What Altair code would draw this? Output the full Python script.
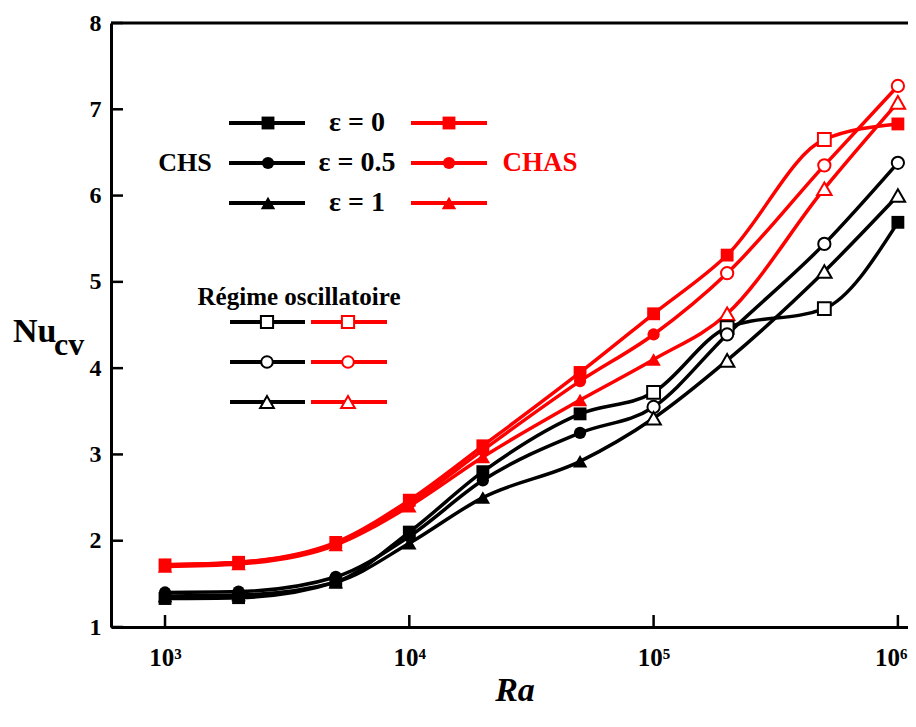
import altair as alt
import pandas as pd

# ---------------- data ----------------
ra = [1e3, 2e3, 5e3, 1e4, 2e4, 5e4, 1e5, 2e5, 5e5, 1e6]

chs_e0 = [1.33, 1.34, 1.52, 2.10, 2.80, 3.47, 3.72, 4.47, 4.69, 5.69]
chs_e05 = [1.40, 1.41, 1.58, 2.05, 2.70, 3.25, 3.55, 4.39, 5.44, 6.38]
chs_e1 = [1.36, 1.37, 1.52, 1.97, 2.50, 2.92, 3.42, 4.09, 5.12, 6.00]
chas_e0 = [1.72, 1.75, 1.98, 2.47, 3.10, 3.95, 4.63, 5.31, 6.65, 6.83]
chas_e05 = [1.72, 1.75, 1.97, 2.43, 3.05, 3.85, 4.39, 5.10, 6.35, 7.27]
chas_e1 = [1.70, 1.73, 1.95, 2.40, 2.97, 3.63, 4.10, 4.63, 6.08, 7.08]

# 1 = oscillatory regime (open marker)
chs_e0_osc = [0, 0, 0, 0, 0, 0, 1, 1, 1, 0]
chs_e05_osc = [0, 0, 0, 0, 0, 0, 1, 1, 1, 1]
chs_e1_osc = [0, 0, 0, 0, 0, 0, 1, 1, 1, 1]
chas_e0_osc = [0, 0, 0, 0, 0, 0, 0, 0, 1, 0]
chas_e05_osc = [0, 0, 0, 0, 0, 0, 0, 1, 1, 1]
chas_e1_osc = [0, 0, 0, 0, 0, 0, 0, 1, 1, 1]

series_names = ["CHAS_e0", "CHAS_e05", "CHAS_e1", "CHS_e0", "CHS_e05", "CHS_e1"]
series_values = [chas_e0, chas_e05, chas_e1, chs_e0, chs_e05, chs_e1]
series_osc = [chas_e0_osc, chas_e05_osc, chas_e1_osc, chs_e0_osc, chs_e05_osc, chs_e1_osc]
series_color = ["red", "red", "red", "black", "black", "black"]
series_shape = ["square", "circle", "triangle-up"] * 2

x_ticks = [1e3, 1e4, 1e5, 1e6]
y_ticks = [1, 2, 3, 4, 5, 6, 7, 8]

legend_labels = ["ε = 0", "ε = 0.5", "ε = 1"]
legend_shapes = ["square", "circle", "triangle-up"]

rows = []
for name, vals, osc, col, shp in zip(series_names, series_values, series_osc, series_color, series_shape):
    for r, v, o in zip(ra, vals, osc):
        rows.append(dict(Ra=r, Nu=v, series=name, color=col, shape=shp, osc=o))
df = pd.DataFrame(rows)

# ---------------- layout ----------------
W, H = 797, 604
FONT = "Liberation Serif"
dummy = pd.DataFrame({"a": [0]})

xsc = alt.Scale(type="log", domain=[601, 1.10e6], nice=False)
ysc = alt.Scale(domain=[1, 8], zero=False, nice=False)

label_expr = ("'10' + (datum.value < 5000 ? '³' : datum.value < 50000 ? '⁴' : "
              "datum.value < 500000 ? '⁵' : '⁶')")
xenc = alt.X("Ra:Q", scale=xsc,
             axis=alt.Axis(values=x_ticks, labelExpr=label_expr, labelPadding=18,
                           labelFontSize=25, labelFlush=15, labelFlushOffset=9,
                           title=None))
yenc = alt.Y("Nu:Q", scale=ysc,
             axis=alt.Axis(values=y_ticks, format="d", labelPadding=10,
                           labelFontSize=24, title=None))

size_expr = "datum.shape == 'triangle-up' ? 210 : (datum.shape == 'circle' ? 150 : 165)"
base = alt.Chart(df).encode(x=xenc, y=yenc)

lines = base.mark_line(strokeWidth=3.5, interpolate="monotone").encode(
    color=alt.Color("color:N", scale=None), detail="series:N")

filled_pts = base.transform_filter("datum.osc == 0").transform_calculate(
    msize=size_expr).mark_point(filled=True, opacity=1).encode(
    color=alt.Color("color:N", scale=None), shape=alt.Shape("shape:N", scale=None),
    size=alt.Size("msize:Q", scale=None))

open_pts = base.transform_filter("datum.osc == 1").transform_calculate(
    msize=size_expr).mark_point(filled=True, fill="white", strokeWidth=2, opacity=1).encode(
    stroke=alt.Stroke("color:N", scale=None), shape=alt.Shape("shape:N", scale=None),
    size=alt.Size("msize:Q", scale=None))

xt = alt.Chart(pd.DataFrame({"Ra": x_ticks})).mark_rule(strokeWidth=2.5, color="black").encode(
    x=xenc, y=alt.value(H), y2=alt.value(H - 12))
yt = alt.Chart(pd.DataFrame({"Nu": y_ticks})).mark_rule(strokeWidth=2.5, color="black").encode(
    y=yenc, x=alt.value(0), x2=alt.value(12))
top_frame = alt.Chart(dummy).mark_rule(strokeWidth=3, color="black").encode(
    x=alt.value(0), x2=alt.value(W), y=alt.value(0))

layers = [lines, filled_pts, open_pts, xt, yt, top_frame]

marker_size = {"square": 165, "circle": 150, "triangle-up": 210}


def seg(x1, x2, y, color):
    return alt.Chart(dummy).mark_rule(strokeWidth=4, color=color).encode(
        x=alt.value(x1), x2=alt.value(x2), y=alt.value(y))


def marker(x, y, shape, color, hollow):
    if hollow:
        return alt.Chart(dummy).mark_point(
            shape=shape, filled=True, fill="white", stroke=color, strokeWidth=2,
            size=marker_size[shape] * 0.9, opacity=1).encode(x=alt.value(x), y=alt.value(y))
    return alt.Chart(dummy).mark_point(
        shape=shape, filled=True, color=color, size=marker_size[shape], opacity=1).encode(
        x=alt.value(x), y=alt.value(y))


def text(t, x, y, size, color="black", align="center", style="normal", baseline="middle"):
    return alt.Chart(dummy).mark_text(
        text=t, font=FONT, fontWeight="bold", fontStyle=style, fontSize=size,
        color=color, align=align, baseline=baseline).encode(x=alt.value(x), y=alt.value(y))


# steady legend
top_rows = [100, 140, 180]
for lab, shp, yy in zip(legend_labels, legend_shapes, top_rows):
    layers += [seg(118, 194, yy, "black"), marker(157, yy, shp, "black", False),
               seg(300, 376, yy, "red"), marker(338, yy, shp, "red", False),
               text(lab, 246, yy, 28)]
layers += [text("CHS", 74, 140, 26), text("CHAS", 429, 140, 27, color="red")]

# oscillatory legend
layers.append(text("Régime oscillatoire", 188, 274, 25))
osc_rows = [299, 339, 379]
for shp, yy in zip(legend_shapes, osc_rows):
    layers += [seg(119, 194, yy, "black"), marker(156, yy, shp, "black", True),
               seg(200, 276, yy, "red"), marker(237, yy, shp, "red", True)]

# axis titles
layers += [
    text("Nu", -98, 319, 34, align="left", baseline="alphabetic"),
    text("cv", -57, 332, 32, align="left", baseline="alphabetic"),
    text("Ra", 404, 678, 34, style="italic", baseline="alphabetic"),
]

chart = alt.layer(*layers).properties(
    width=W, height=H,
    autosize=alt.AutoSizeParams(type="none"),
    padding={"left": 103, "top": 15, "right": 0, "bottom": 86},
).configure_view(stroke=None).configure_axis(
    domainWidth=3, domainColor="black", ticks=False, tickSize=0, grid=False,
    labelFont=FONT, labelFontWeight="bold", labelColor="black",
)

chart.save("out.html", embed_options={"renderer": "svg", "actions": False})
